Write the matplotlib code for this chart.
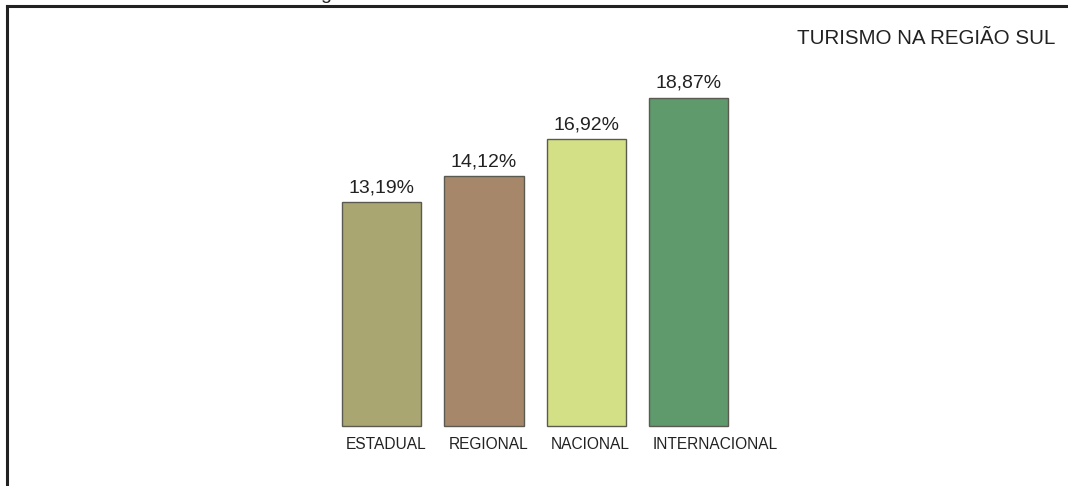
import matplotlib
matplotlib.use('Agg')
import matplotlib.pyplot as plt

plt.rcParams['font.family'] = ['Liberation Sans', 'DejaVu Sans']

# dados do grafico
categorias = ['ESTADUAL', 'REGIONAL', 'NACIONAL', 'INTERNACIONAL']
rotulos = ['13,19%', '14,12%', '16,92%', '18,87%']
# altura das barras como aparecem no desenho (escala em %)
alturas = [13.19, 14.72, 16.90, 19.32]
cores = ['#A9A672', '#A6876A', '#D4E085', '#5E9A6B']

W, H = 1068, 486
fig = plt.figure(figsize=(W / 100, H / 100), dpi=100)
fig.patch.set_facecolor('white')

# moldura: linha em cima e na esquerda
esq, topo = 7, H - 6.5
ax = fig.add_axes([esq / W, 0, 1 - esq / W + 0.01, topo / H])

px_x = 102.2   # pixels por unidade em x
px_y = 16.98   # pixels por unidade em y
centro0 = 381.5
base = 60
ax.set_xlim((esq - centro0) / px_x, (W + 10 - centro0) / px_x)
ax.set_ylim(-base / px_y, (topo - base) / px_y)

x = list(range(len(categorias)))
larg = 79 / px_x
ax.bar(x, alturas, width=larg, color=cores, edgecolor='#5a5a50', linewidth=1.0)

for i in x:
    ax.text(i, alturas[i] + 10 / px_y, rotulos[i], ha='center', va='baseline',
            fontsize=14, color='#222222')
    ax.text(i - larg / 2 + 4 / px_x, -23 / px_y, categorias[i], ha='left',
            va='baseline', fontsize=11.2, color='#222222')

ax.text((1055 - centro0) / px_x, (H - 44 - base) / px_y, 'TURISMO NA REGIÃO SUL',
        ha='right', va='baseline', fontsize=14.8, color='#222222')

ax.set_xticks([])
ax.set_yticks([])
for s in ['right', 'bottom']:
    ax.spines[s].set_visible(False)
for s in ['left', 'top']:
    ax.spines[s].set_linewidth(2.2)
    ax.spines[s].set_color('#222222')

# pedaco de texto cortado no topo (como no original)
fig.text(320 / W, 1.0 + 1 / H, 'g', ha='left', va='baseline', fontsize=14,
         color='#222222')

fig.savefig('out.png', dpi=100)
